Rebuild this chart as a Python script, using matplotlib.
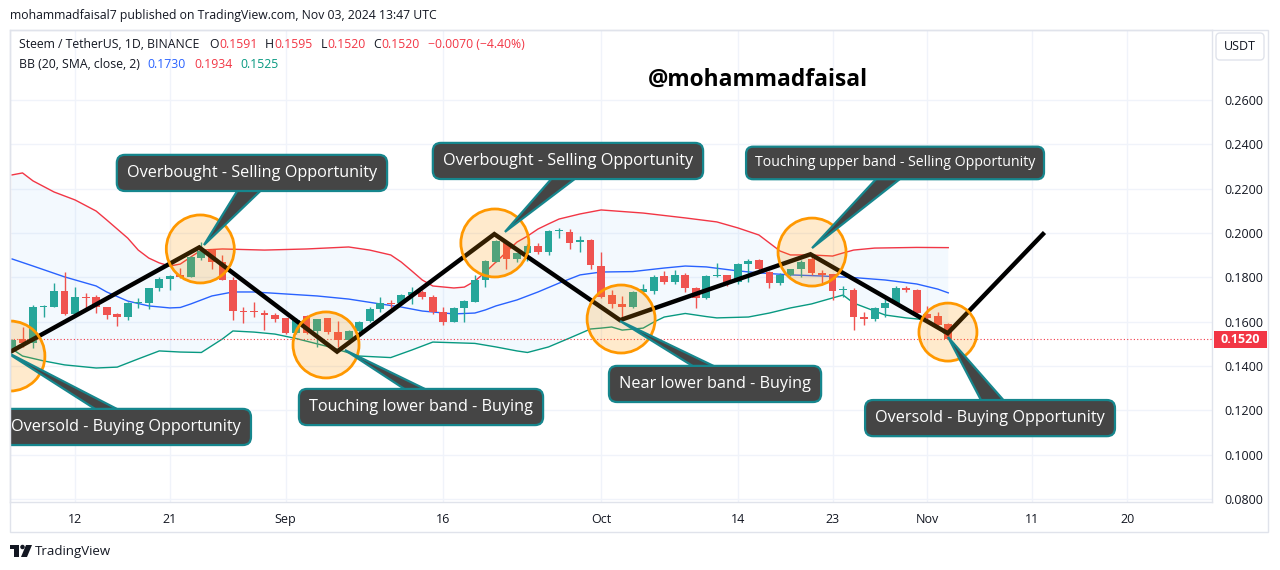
import matplotlib
matplotlib.use("Agg")
import matplotlib.pyplot as plt
from matplotlib.patches import Ellipse, Polygon, FancyBboxPatch, Rectangle
import matplotlib.transforms as mtransforms
import numpy as np

# ---------------- data ----------------
# day index 0 = Aug 6, 2024 (daily candles, STEEM/USDT)
opens = [0.1468, 0.1520, 0.1502, 0.1668, 0.1668, 0.1740, 0.1635, 0.1710, 0.1710, 0.1665,
         0.1635, 0.1623, 0.1683, 0.1683, 0.1750, 0.1791, 0.1810, 0.1803, 0.1886, 0.1923,
         0.1870, 0.1788, 0.1650, 0.1645, 0.1638, 0.1630, 0.1615, 0.1550, 0.1625, 0.1556,
         0.1615, 0.1552, 0.1517, 0.1560, 0.1603, 0.1657, 0.1686, 0.1683, 0.1720, 0.1733,
         0.1713, 0.1642, 0.1600, 0.1663, 0.1690, 0.1788, 0.1871, 0.1953, 0.1883, 0.1908,
         0.1941, 0.1916, 0.2008, 0.2006, 0.1959, 0.1968, 0.1851, 0.1720, 0.1678, 0.1665,
         0.1735, 0.1740, 0.1806, 0.1780, 0.1810, 0.1752, 0.1708, 0.1806, 0.1810, 0.1780,
         0.1859, 0.1878, 0.1825, 0.1776, 0.1810, 0.1836, 0.1881, 0.1821, 0.1814, 0.1742,
         0.1745, 0.1620, 0.1610, 0.1660, 0.1686, 0.1753, 0.1743, 0.1635, 0.1625, 0.1591]
highs = [0.1522, 0.1575, 0.1675, 0.1673, 0.1776, 0.1826, 0.1758, 0.1728, 0.1720, 0.1668,
         0.1640, 0.1690, 0.1705, 0.1753, 0.1800, 0.1810, 0.1842, 0.1895, 0.1960, 0.1930,
         0.1903, 0.1800, 0.1668, 0.1690, 0.1653, 0.1639, 0.1615, 0.1615, 0.1628, 0.1610,
         0.1618, 0.1604, 0.1562, 0.1605, 0.1668, 0.1710, 0.1700, 0.1725, 0.1755, 0.1743,
         0.1720, 0.1668, 0.1668, 0.1698, 0.1810, 0.1878, 0.1970, 0.1957, 0.1911, 0.1952,
         0.1955, 0.2012, 0.2024, 0.2017, 0.1986, 0.1971, 0.1916, 0.1743, 0.1716, 0.1738,
         0.1768, 0.1812, 0.1828, 0.1831, 0.1820, 0.1755, 0.1812, 0.1863, 0.1812, 0.1866,
         0.1881, 0.1881, 0.1828, 0.1819, 0.1838, 0.1878, 0.1900, 0.1833, 0.1814, 0.1760,
         0.1750, 0.1645, 0.1668, 0.1716, 0.1762, 0.1760, 0.1747, 0.1671, 0.1645, 0.1595]
lows = [0.1462, 0.1485, 0.1480, 0.1622, 0.1665, 0.1630, 0.1630, 0.1660, 0.1638, 0.1610,
        0.1582, 0.1607, 0.1660, 0.1655, 0.1740, 0.1743, 0.1797, 0.1800, 0.1878, 0.1836,
        0.1786, 0.1608, 0.1593, 0.1620, 0.1562, 0.1600, 0.1545, 0.1545, 0.1545, 0.1487,
        0.1545, 0.1487, 0.1500, 0.1555, 0.1598, 0.1644, 0.1660, 0.1680, 0.1680, 0.1703,
        0.1633, 0.1583, 0.1598, 0.1600, 0.1688, 0.1755, 0.1868, 0.1836, 0.1870, 0.1872,
        0.1905, 0.1902, 0.1976, 0.1926, 0.1916, 0.1836, 0.1705, 0.1660, 0.1623, 0.1662,
        0.1732, 0.1727, 0.1770, 0.1772, 0.1735, 0.1663, 0.1704, 0.1803, 0.1762, 0.1770,
        0.1780, 0.1832, 0.1750, 0.1767, 0.1806, 0.1803, 0.1810, 0.1776, 0.1698, 0.1713,
        0.1563, 0.1583, 0.1605, 0.1623, 0.1683, 0.1734, 0.1634, 0.1610, 0.1574, 0.1520]
closes = [0.1517, 0.1505, 0.1668, 0.1671, 0.1740, 0.1635, 0.1710, 0.1705, 0.1668, 0.1630,
          0.1623, 0.1683, 0.1686, 0.1750, 0.1791, 0.1808, 0.1800, 0.1893, 0.1919, 0.1870,
          0.1788, 0.1650, 0.1643, 0.1642, 0.1630, 0.1612, 0.1550, 0.1608, 0.1550, 0.1610,
          0.1555, 0.1517, 0.1559, 0.1600, 0.1657, 0.1686, 0.1680, 0.1720, 0.1733, 0.1713,
          0.1645, 0.1600, 0.1663, 0.1695, 0.1788, 0.1874, 0.1965, 0.1881, 0.1908, 0.1941,
          0.1916, 0.2010, 0.2010, 0.1956, 0.1968, 0.1856, 0.1713, 0.1680, 0.1665, 0.1735,
          0.1746, 0.1803, 0.1780, 0.1809, 0.1750, 0.1708, 0.1806, 0.1808, 0.1780, 0.1860,
          0.1874, 0.1836, 0.1773, 0.1810, 0.1836, 0.1870, 0.1818, 0.1810, 0.1740, 0.1745,
          0.1620, 0.1611, 0.1660, 0.1686, 0.1753, 0.1743, 0.1637, 0.1615, 0.1583, 0.1520]

# Bollinger bands (20, SMA, close, 2) at selected days
upper_days = [0, 1, 2, 4, 6, 8, 9, 11, 12, 13, 14, 15, 16, 17, 18, 20, 24, 28, 32, 34, 36, 37, 38,
              39, 40, 42, 43, 44, 45, 46, 47, 48, 49, 50, 51, 52, 54, 56, 60, 64, 67, 69, 71,
              72, 73, 74, 76, 78, 79, 80, 82, 86, 89]
upper_vals = [0.2262, 0.2271, 0.2235, 0.2185, 0.2149, 0.2099, 0.2059, 0.1977, 0.1923, 0.1887,
              0.1865, 0.1851, 0.1860, 0.1892, 0.1923, 0.1928, 0.1923, 0.1928, 0.1937, 0.1923,
              0.1901, 0.1869, 0.1829, 0.1788, 0.1761, 0.1752, 0.1756, 0.1783, 0.1824, 0.1869,
              0.1914, 0.1959, 0.1986, 0.2018, 0.2041, 0.2063, 0.2086, 0.2104, 0.2090, 0.2068,
              0.2050, 0.2023, 0.1991, 0.1955, 0.1919, 0.1901, 0.1901, 0.1896, 0.1910, 0.1923,
              0.1932, 0.1935, 0.1934]
basis_days = [0, 2, 5, 8, 9, 11, 13, 15, 16, 17, 18, 19, 21, 23, 26, 29, 32, 35, 37, 39, 42, 44,
              45, 46, 48, 50, 52, 54, 56, 59, 62, 64, 66, 69, 71, 74, 77, 80, 83, 86, 88, 89]
basis_vals = [0.1883, 0.1851, 0.1802, 0.1761, 0.1734, 0.1693, 0.1671, 0.1662, 0.1664, 0.1680,
              0.1698, 0.1716, 0.1734, 0.1734, 0.1725, 0.1716, 0.1702, 0.1680, 0.1666, 0.1648,
              0.1635, 0.1639, 0.1653, 0.1671, 0.1698, 0.1734, 0.1774, 0.1811, 0.1824, 0.1826,
              0.1842, 0.1851, 0.1847, 0.1829, 0.1820, 0.1811, 0.1806, 0.1799, 0.1788, 0.1770,
              0.1747, 0.1730]
lower_days = [0, 1, 3, 5, 8, 10, 12, 14, 16, 18, 20, 21, 23, 25, 27, 30, 33, 36, 38, 40, 44, 46,
              48, 49, 51, 53, 55, 56, 57, 58, 60, 61, 62, 64, 66, 67, 70, 72, 74, 76, 78, 79,
              80, 81, 83, 85, 87, 88, 89]
lower_vals = [0.1477, 0.1445, 0.1423, 0.1405, 0.1391, 0.1395, 0.1432, 0.1468, 0.1463, 0.1461,
              0.1522, 0.1558, 0.1553, 0.1544, 0.1524, 0.1488, 0.1445, 0.1438, 0.1472, 0.1508,
              0.1502, 0.1486, 0.1468, 0.1461, 0.1486, 0.1526, 0.1567, 0.1571, 0.1576, 0.1562,
              0.1571, 0.1598, 0.1621, 0.1637, 0.1623, 0.1617, 0.1621, 0.1639, 0.1662, 0.1680,
              0.1707, 0.1720, 0.1684, 0.1666, 0.1630, 0.1617, 0.1608, 0.1580, 0.1526]

# x-axis tick labels
tick_days = [6, 15, 26, 41, 56, 69, 78, 87, 97, 106]
tick_labels = ["12", "21", "Sep", "16", "Oct", "14", "23", "Nov", "11", "20"]
price_ticks = [0.08, 0.10, 0.12, 0.14, 0.16, 0.18, 0.20, 0.22, 0.24, 0.26]
last_price = 0.1520

# drawn zig-zag trend line
zig_days = [-0.19, 17.8, 30.9, 45.85, 57.8, 75.9, 88.95, 98.0]
zig_vals = [0.1463, 0.1935, 0.1465, 0.1995, 0.1607, 0.1904, 0.1548, 0.1995]

# highlighted turning points (day, price, radius in px)
circ_days = [-0.2, 17.9, 29.85, 45.9, 57.9, 76.05, 88.97]
circ_vals = [0.1445, 0.1928, 0.1495, 0.1955, 0.1612, 0.1914, 0.1553]
circ_rad = [35, 34, 33, 34, 34, 34, 29]

# callouts
ann_labels = ["Overbought - Selling Opportunity", "Overbought - Selling Opportunity",
              "Touching upper band - Selling Opportunity", "Oversold - Buying Opportunity",
              "Touching lower band - Buying", "Near lower band - Buying",
              "Oversold - Buying Opportunity"]
ann_box = [(22.81, 0.2271), (52.85, 0.2325), (83.94, 0.2316), (10.84, 0.1125),
           (38.88, 0.1215), (66.83, 0.1319), (92.97, 0.1165)]
ann_base = [(22.9, 0.2212), (52.8, 0.2262), (83.7, 0.2262), (10.46, 0.1165),
            (39.8, 0.1256), (67.3, 0.1359), (93.7, 0.1211)]
ann_tip = [(18.25, 0.1946), (46.86, 0.2005), (76.05, 0.1932), (-0.8, 0.1470),
           (31.65, 0.1472), (57.8, 0.1603), (88.97, 0.1531)]
ann_fs = [11.7, 11.7, 10.2, 11.7, 11.7, 11.7, 11.7]

# ---------------- style ----------------
UP, DOWN = "#26a69a", "#ef5350"
C_UP, C_MID, C_LOW = "#f23645", "#2962ff", "#089981"
GRID, BORDER, TXT = "#f0f3fa", "#e0e3eb", "#131722"
plt.rcParams['font.family'] = ['Open Sans', 'DejaVu Sans']

W, H = 1280, 570
fig = plt.figure(figsize=(W / 100, H / 100), dpi=100)
fig.patch.set_facecolor("white")
AX_L, AX_R, AX_T, AX_B = 10, 1212, 30, 502
ax = fig.add_axes([AX_L / W, 1 - AX_B / H, (AX_R - AX_L) / W, (AX_B - AX_T) / H])
XLIM = (-0.19, 114.07)
YLIM = (0.07865, 0.29158)
ax.set_xlim(*XLIM)
ax.set_ylim(*YLIM)
px_day = (AX_R - AX_L) / (XLIM[1] - XLIM[0])
px_price = (AX_B - AX_T) / (YLIM[1] - YLIM[0])

# grid / axes
ax.set_axisbelow(True)
ax.set_xticks(tick_days)
ax.set_xticklabels(tick_labels)
ax.set_yticks(price_ticks)
ax.set_yticklabels([f"{v:.4f}" for v in price_ticks])
ax.yaxis.tick_right()
ax.grid(True, color=GRID, lw=1)
ax.tick_params(axis='x', length=0, pad=8, labelsize=9, labelcolor=TXT)
ax.tick_params(axis='y', length=0, pad=9, labelsize=9, labelcolor=TXT)
for s in ax.spines.values():
    s.set_color(BORDER)
    s.set_linewidth(1)

idt = mtransforms.IdentityTransform()
# outer frame (time + price scale)
fig.add_artist(Rectangle((AX_L, H - 532), 1268 - AX_L, 532 - AX_T, fill=False,
                         ec=BORDER, lw=1, transform=idt))

# Bollinger band fill + lines
ax.fill(np.concatenate([upper_days, lower_days[::-1]]),
        np.concatenate([upper_vals, lower_vals[::-1]]),
        color="#2196f3", alpha=0.05, lw=0, zorder=1)
ax.plot(upper_days, upper_vals, color=C_UP, lw=1, zorder=2)
ax.plot(basis_days, basis_vals, color=C_MID, lw=1, zorder=2)
ax.plot(lower_days, lower_vals, color=C_LOW, lw=1, zorder=2)

# candles
o = np.array(opens); h = np.array(highs); l = np.array(lows); c = np.array(closes)
x = np.arange(len(o))
cols = np.where(c >= o, UP, DOWN)
ax.vlines(x, l, h, colors=cols, lw=1, zorder=3)
ax.bar(x, np.maximum(np.abs(c - o), 0.0004), bottom=np.minimum(o, c), width=0.74,
       color=cols, lw=0, zorder=4)

# last price line + label
ax.axhline(last_price, color=C_UP, lw=0.8, ls=(0, (1, 2)), zorder=2)
blend = mtransforms.blended_transform_factory(ax.transAxes, ax.transData)
ax.add_patch(Rectangle((1 + 2 / 1202, last_price - 8.5 / px_price), 53 / 1202, 17 / px_price,
                       transform=blend, clip_on=False, fc="#f23645", ec="none", zorder=10))
ax.text(1 + 28.5 / 1202, last_price, f"{last_price:.4f}", transform=blend, ha='center',
        va='center', color='white', fontsize=9, fontweight='bold', clip_on=False, zorder=11)

# zig-zag line
ax.plot(zig_days, zig_vals, color="black", lw=3.2, zorder=5, solid_joinstyle='miter')

# circles
for cx, cy, r in zip(circ_days, circ_vals, circ_rad):
    ax.add_patch(Ellipse((cx, cy), 2 * r / px_day, 2 * r / px_price,
                         fc=(1.0, 0.596, 0.0, 0.2), ec="#ff9800", lw=2, zorder=6))

# callouts
BOX_FC, BOX_EC = "#454545", "#16868d"
for lab, (bx, by), (sx, sy), (tx, ty), fs in zip(ann_labels, ann_box, ann_base, ann_tip, ann_fs):
    hw = 1.2
    ax.add_patch(Polygon([(sx - hw, sy), (tx, ty), (sx + hw, sy)], closed=True,
                         fc=BOX_FC, ec=BOX_EC, lw=1.6, zorder=7, joinstyle='miter'))
    ax.text(bx, by, lab, ha='center', va='center', color='white', fontsize=fs, zorder=8,
            bbox=dict(boxstyle='round,pad=0.62,rounding_size=0.5', fc=BOX_FC, ec=BOX_EC, lw=1.6),
            clip_on=True)

# ---------------- header texts ----------------
renderer = fig.canvas.get_renderer()


def ft(px, py, s, **kw):
    return fig.text(px / W, 1 - py / H, s, va='center', **kw)


def pieces(px, py, parts, fs):
    """draw coloured text pieces one after another; parts = (text, colour, gap_px)"""
    cur = px
    for s, col, gap in parts:
        cur += gap
        t = ft(cur, py, s, fontsize=fs, color=col)
        cur += t.get_window_extent(renderer).width


ft(10, 16, "mohammadfaisal7 published on TradingView.com, Nov 03, 2024 13:47 UTC",
   fontsize=8.8, color=TXT)
RED = "#f23645"
pieces(19, 45, [("Steem / TetherUS, 1D, BINANCE", TXT, 0),
                ("O", TXT, 10), ("0.1591", RED, 0),
                ("H", TXT, 8), ("0.1595", RED, 0),
                ("L", TXT, 8), ("0.1520", RED, 0),
                ("C", TXT, 8), ("0.1520", RED, 0),
                ("\u22120.0070 (\u22124.40%)", RED, 9)], 8.8)
pieces(19, 64, [("BB (20, SMA, close, 2)", TXT, 0),
                ("0.1730", C_MID, 8), ("0.1934", C_UP, 8), ("0.1525", C_LOW, 8)], 8.8)

fig.text(758 / W, 1 - 80 / H, "@mohammadfaisal", ha='center', va='center', fontsize=16.4,
         fontweight='bold', color='black')

# USDT scale button
fig.add_artist(FancyBboxPatch((1216, H - 60), 48, 27, boxstyle="round,pad=0,rounding_size=4",
                              fc="white", ec=BORDER, lw=1, transform=idt))
fig.text(1240 / W, 1 - 46.5 / H, "USDT", ha='center', va='center', fontsize=9, color=TXT)

# TradingView logo
fig.add_artist(Rectangle((10, H - 549), 9, 4, fc=TXT, ec='none', transform=idt))
fig.add_artist(Rectangle((14, H - 557), 5, 8, fc=TXT, ec='none', transform=idt))
fig.add_artist(Ellipse((22.5, H - 547), 4.5, 4.5, fc=TXT, ec='none', transform=idt))
fig.add_artist(Polygon([(26, H - 545), (32, H - 545), (27, H - 557), (21, H - 557)],
                       closed=True, fc=TXT, ec='none', transform=idt))
ft(35, 551, "TradingView", fontsize=9.5, color=TXT)

fig.savefig("out.png", dpi=100, facecolor="white")
